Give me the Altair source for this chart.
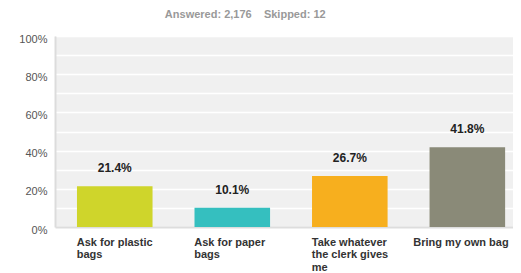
import altair as alt
import pandas as pd

categories = ["Ask for plastic|bags", "Ask for paper|bags", "Take whatever|the clerk gives|me", "Bring my own bag"]
values = [21.4, 10.1, 26.7, 41.8]
colors = ["#cfd52b", "#35bfbf", "#f7af1e", "#8a8a78"]
y_ticks = [0, 10, 20, 30, 40, 50, 60, 70, 80, 90, 100]

df = pd.DataFrame({"cat": categories, "val": values, "color": colors,
                   "lab": [f"{v:.1f}%" for v in values]})

x = alt.X("cat:N", sort=categories, title=None,
          scale=alt.Scale(paddingInner=0.357, paddingOuter=0.127, align=0.736),
          axis=alt.Axis(labelAngle=0, labelAlign="left",
                        labelOffset={"condition": {"test": "datum.value == 'Bring my own bag'", "value": -54}, "value": -38},
                        labelBaseline="top",
                        labelExpr="split(datum.label, '|')", labelFont="Liberation Sans",
                        labelFontSize=11, labelFontWeight="bold", labelColor="#333333",
                        labelPadding=9, labelLimit=200, labelLineHeight=12.5, labelOverlap=False,
                        ticks=False, domain=True, domainColor="#dddddd", domainWidth=2, grid=False))

y = alt.Y("val:Q", title=None, scale=alt.Scale(domain=[0, 100], nice=False),
          axis=alt.Axis(values=y_ticks, labelExpr="round(datum.value/10) % 2 == 0 ? datum.value + '%' : ''",
                        ticks=False, domain=True, domainColor="#dcdcdc", domainWidth=2,
                        grid=True, gridColor="#ffffff", gridWidth=1.5, labelOverlap=False,
                        labelFont="Liberation Sans", labelFontSize=11, labelColor="#555555",
                        labelPadding=8, labelBaseline="middle", labelOffset=3))

base = alt.Chart(df).encode(x=x, y=y)

bars = base.mark_bar().encode(color=alt.Color("color:N", scale=None))

text = base.mark_text(font="Liberation Sans", fontSize=12, fontWeight="bold",
                      color="#222222", baseline="alphabetic", dy=-14).encode(text="lab:N")

chart = (bars + text).properties(
    width=458, height=191,
    autosize=alt.AutoSizeParams(type="none"),
    padding={"left": 47, "top": 28, "right": 0, "bottom": 46},
    background="#ffffff",
    title=alt.TitleParams("Answered: 2,176\u00a0\u00a0\u00a0\u00a0Skipped: 12", anchor="start", dx=146, offset=13,
                          font="Liberation Sans", fontSize=11, fontWeight="bold", color="#999999"),
).configure_view(fill="#f0f0f0", stroke=None)

chart.save("out.html", embed_options={"renderer": "svg", "actions": False})
